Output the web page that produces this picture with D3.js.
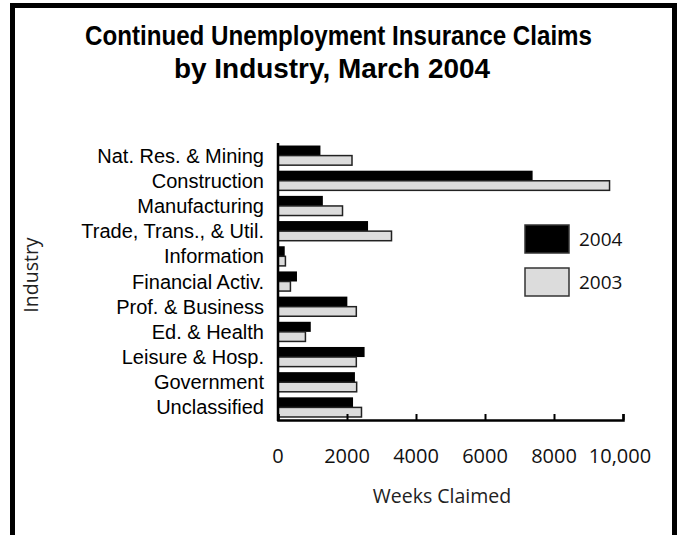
<!DOCTYPE html>
<html>
<head>
<meta charset="utf-8">
<script src="https://cdn.jsdelivr.net/npm/d3@7"></script>
<style>
  body { margin: 0; background: #fff; }
  svg { display: block; }
</style>
</head>
<body>
<div id="chart"></div>
<script>
const industries = ["Nat. Res. & Mining", "Construction", "Manufacturing", "Trade, Trans., & Util.",
  "Information", "Financial Activ.", "Prof. & Business", "Ed. & Health", "Leisure & Hosp.",
  "Government", "Unclassified"];
const claims2004 = [1230, 7380, 1300, 2610, 195, 550, 2010, 950, 2510, 2230, 2175];
const claims2003 = [2145, 9610, 1870, 3290, 215, 360, 2270, 795, 2270, 2280, 2420];
const xTicks = [0, 2000, 4000, 6000, 8000, 10000];
const seriesNames = ["2004", "2003"];

const width = 678, height = 535;
const svg = d3.select("#chart").append("svg")
  .attr("width", width)
  .attr("height", height);

// frame, open at the bottom
svg.append("rect")
  .attr("x", 12.5).attr("y", 5.5)
  .attr("width", 662).attr("height", 600)
  .attr("fill", "none").attr("stroke", "#000").attr("stroke-width", 5);

const titleFont = "'Liberation Sans Narrow', 'Arial Narrow', 'Liberation Sans', sans-serif";
svg.append("text")
  .attr("x", 338.5).attr("y", 45)
  .attr("text-anchor", "middle")
  .attr("textLength", 507).attr("lengthAdjust", "spacingAndGlyphs")
  .style("font-family", titleFont).style("font-weight", "bold").style("font-size", "28px")
  .text("Continued Unemployment Insurance Claims");
svg.append("text")
  .attr("x", 332).attr("y", 78)
  .attr("text-anchor", "middle")
  .attr("textLength", 316).attr("lengthAdjust", "spacingAndGlyphs")
  .style("font-family", titleFont).style("font-weight", "bold").style("font-size", "28px")
  .text("by Industry, March 2004");

const x = d3.scaleLinear().domain([0, 10000]).range([278, 623]);
const y = d3.scaleBand().domain(industries).range([143, 420])
  .paddingInner(0.2).paddingOuter(0.1);
const half = y.bandwidth() / 2;

const rows = svg.selectAll(".row")
  .data(industries)
  .enter().append("g")
  .attr("class", "row")
  .attr("transform", d => `translate(0,${y(d)})`);

rows.append("rect")
  .attr("x", x(0))
  .attr("y", 0)
  .attr("width", (d, i) => x(claims2004[i]) - x(0))
  .attr("height", half)
  .attr("fill", "#000");

rows.append("rect")
  .attr("x", x(0))
  .attr("y", half)
  .attr("width", (d, i) => x(claims2003[i]) - x(0))
  .attr("height", half - 0.5)
  .attr("fill", "#dcdcdc")
  .attr("stroke", "#222")
  .attr("stroke-width", 1.5);

// category labels
svg.selectAll(".cat")
  .data(industries)
  .enter().append("text")
  .attr("class", "cat")
  .attr("x", 264)
  .attr("y", d => y(d) + y.bandwidth() / 2)
  .attr("dy", "0.35em")
  .attr("text-anchor", "end")
  .style("font-family", "'Liberation Sans', Arial, sans-serif")
  .style("font-size", "20px")
  .text(d => d);

// y axis line
svg.append("line")
  .attr("x1", 278).attr("x2", 278)
  .attr("y1", 143).attr("y2", 421)
  .attr("stroke", "#000").attr("stroke-width", 2.5);

// x axis
const xAxis = d3.axisTop(x).tickValues(xTicks).tickSize(6).tickFormat("");
const gX = svg.append("g")
  .attr("transform", "translate(0,420)")
  .call(xAxis);
gX.select(".domain").attr("stroke", "#000").attr("stroke-width", 2.5);
gX.selectAll(".tick line").attr("stroke", "#000").attr("stroke-width", 2);

const labelFont = "'Open Sans', sans-serif";
svg.selectAll(".xlab")
  .data(xTicks)
  .enter().append("text")
  .attr("class", "xlab")
  .attr("x", d => x(d) + (d === 10000 ? -3 : 0))
  .attr("y", 463)
  .attr("text-anchor", "middle")
  .style("font-family", labelFont).style("font-size", "20px").style("fill", "#111")
  .text(d => d === 10000 ? "10,000" : d);

svg.append("text")
  .attr("x", 442).attr("y", 503)
  .attr("text-anchor", "middle")
  .style("font-family", labelFont).style("font-size", "19.5px").style("fill", "#222")
  .text("Weeks Claimed");

svg.append("text")
  .attr("transform", "translate(38,275) rotate(-90)")
  .attr("text-anchor", "middle")
  .style("font-family", labelFont).style("font-size", "19.5px").style("fill", "#222")
  .text("Industry");

// legend
const legend = svg.selectAll(".legend")
  .data(seriesNames)
  .enter().append("g")
  .attr("class", "legend")
  .attr("transform", (d, i) => `translate(525,${225 + i * 43})`);
legend.append("rect")
  .attr("width", 44).attr("height", 28)
  .attr("fill", (d, i) => i === 0 ? "#000" : "#dcdcdc")
  .attr("stroke", "#333").attr("stroke-width", 1.5);
legend.append("text")
  .attr("x", 54).attr("y", 21)
  .style("font-family", labelFont).style("font-size", "19px").style("fill", "#111")
  .text(d => d);
</script>
</body>
</html>
